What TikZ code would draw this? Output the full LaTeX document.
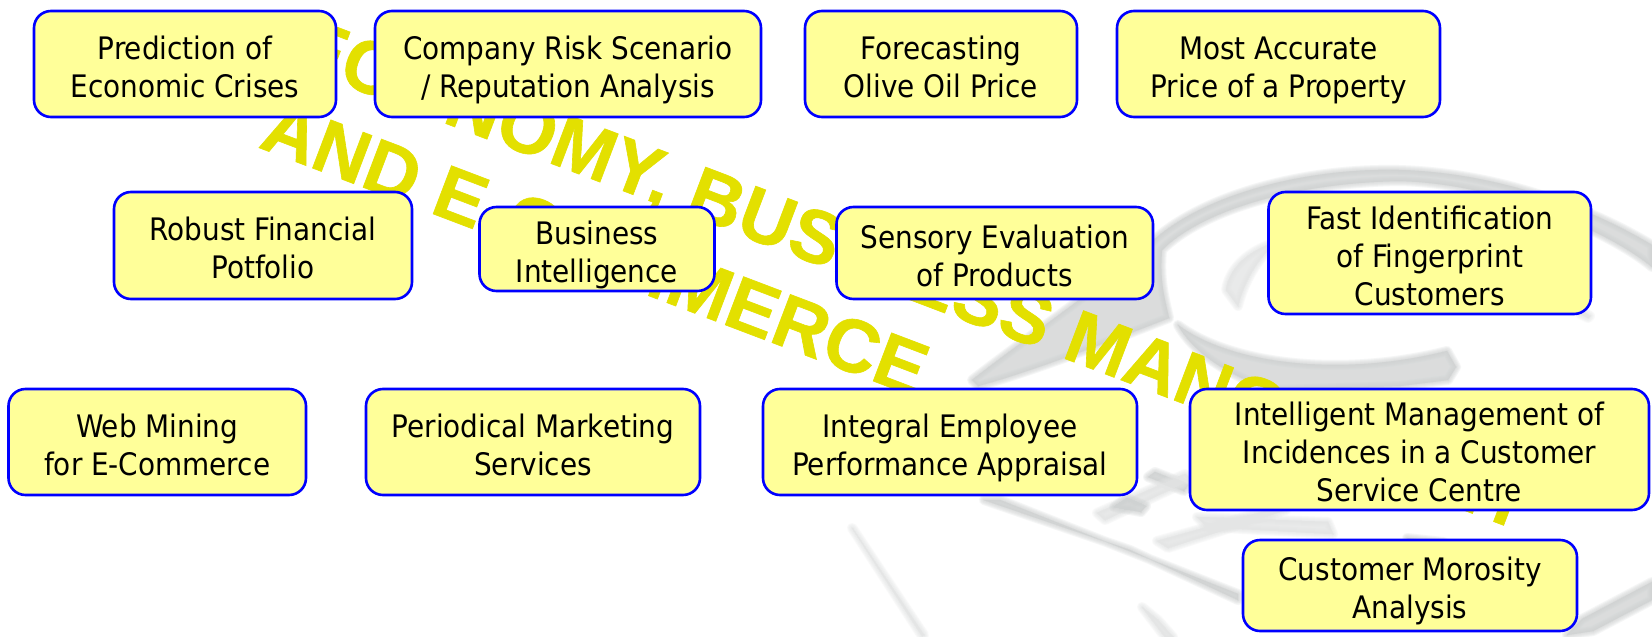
\documentclass[tikz,border=0pt]{standalone}
\usepackage{fontspec}
\setmainfont{DejaVu Sans Condensed}
\newfontfamily\wafont[BoldFeatures={FakeBold=0.8}]{Liberation Sans}
\definecolor{boxfill}{HTML}{FFFF99}
\definecolor{boxline}{HTML}{0000FF}
\definecolor{wordart}{HTML}{E3E000}
\definecolor{markd}{HTML}{CFD2D2}
\definecolor{markl}{HTML}{E4E5E5}
\tikzset{
  itembox/.style={draw=boxline,fill=boxfill,line width=2.6pt,rounded corners=17pt,inner sep=0pt,
    align=center,text=black,font=\fontsize{31}{38}\selectfont},
  wordarttext/.style={text=wordart,font=\wafont\bfseries\fontsize{75}{75}\selectfont,
    rotate=-20.8,anchor=base west,inner sep=0pt}
}
\newcommand{\softshape}[2]{%
  \foreach \lw in {10,8,6,4,2,0.2}{%
    \path[fill=#1,draw=#1,line width=\lw pt,line join=round,opacity=0.2] #2;}}
\newcommand{\itemnode}[6]{%
  \pgfmathsetmacro{\cxv}{(#2+#4)/2}\pgfmathsetmacro{\cyv}{(#3+#5)/2}%
  \pgfmathsetmacro{\wv}{#4-#2}\pgfmathsetmacro{\hv}{#5-#3}%
  \node[itembox,minimum width=\wv pt,minimum height=\hv pt] (#1) at (\cxv,\cyv) {\rule{0pt}{35pt}#6\vphantom{Apg}};}
\begin{document}
\begin{tikzpicture}[x=1pt,y=-1pt]
\clip (0,0) rectangle (1652,637);
\fill[white] (0,0) rectangle (1652,637);
% watermark: ring
\softshape{markd}{(972,380) .. controls (1030,335) and (1110,280) .. (1156,238)
  .. controls (1210,192) and (1310,168) .. (1399,170)
  .. controls (1500,173) and (1590,208) .. (1652,245) -- (1652,267)
  .. controls (1610,232) and (1500,183) .. (1399,181)
  .. controls (1290,183) and (1200,212) .. (1162,250)
  .. controls (1159,280) and (1165,300) .. (1169,318)
  .. controls (1100,345) and (1030,372) .. (978,386) -- cycle}
\softshape{markl}{(1226,290) .. controls (1229,270) and (1245,254) .. (1268,245) -- (1268,250) .. controls (1250,270) and (1242,290) .. (1238,306) -- cycle}
\softshape{markd}{(1178,325) .. controls (1230,364) and (1340,378) .. (1447,351)
  -- (1456,367) -- (1448,380) -- (1400,386)
  -- (1272,390) .. controls (1222,373) and (1192,350) .. cycle}
\softshape{markl}{(1582,311) -- (1590,316) -- (1588,318) -- (1580,314) -- cycle}
% watermark: keyboard
\softshape{markd}{(984,500) -- (1000,500) -- (1238,594) -- (1238,600) -- (1130,550) -- cycle}
\softshape{markd}{(1155,472) -- (1188,485) -- (1184,491) -- (1148,477) -- cycle}
\softshape{markl}{(1097,513) -- (1185,474) -- (1191,480) -- (1105,520) -- cycle}
\softshape{markd}{(1127,498) -- (1146,506) -- (1141,512) -- (1114,507) -- cycle}
\softshape{markl}{(1157,541) -- (1280,507) -- (1286,510) -- (1168,548) -- cycle}
\softshape{markl}{(1197,517) -- (1328,522) -- (1333,534) -- (1207,527) -- cycle}
\softshape{markl}{(1142,607) -- (1158,620) -- (1173,637) -- (1165,637) -- cycle}
\softshape{markd}{(1407,538) -- (1443,542) -- (1453,547) -- (1417,544) -- cycle}
\softshape{markd}{(1582,619) -- (1652,582) -- (1652,600) -- (1593,631) -- (1567,635) -- cycle}
\softshape{markl}{(852,528) -- (853,529) -- (924,635) -- (922,636) -- cycle}
% word art
\node[wordarttext] (line1) at (289,64) {ECONOMY, BUSINESS MANGEMENT};
\node[wordarttext] (line2) at (257,147) {AND E-COMMERCE};
% boxes
\itemnode{a}{34}{11}{336}{117}{Prediction of\\Economic Crises}
\itemnode{b}{375}{11}{761}{117}{Company Risk Scenario\\/ Reputation Analysis}
\itemnode{c}{805}{11}{1077}{117}{Forecasting\\Olive Oil Price}
\itemnode{d}{1117}{11}{1440}{117}{Most Accurate\\Price of a Property}
\itemnode{e}{114}{192}{412}{299}{Robust Financial\\Potfolio}
\itemnode{f}{479.5}{207}{714.5}{291}{Business\\Intelligence}
\itemnode{g}{836.5}{207}{1153}{299}{Sensory Evaluation\\of Products}
\itemnode{h}{1268.5}{192}{1591}{314}{Fast Identification\\of Fingerprint\\Customers}
\itemnode{i}{8.5}{389}{306}{495}{Web Mining\\for E-Commerce}
\itemnode{j}{366}{389}{700}{495}{Periodical Marketing\\Services}
\itemnode{k}{763}{389}{1137}{495}{Integral Employee\\Performance Appraisal}
\itemnode{l}{1190}{389}{1649}{510}{Intelligent Management of\\Incidences in a Customer\\Service Centre}
\itemnode{m}{1243}{540}{1577}{631}{Customer Morosity\\Analysis}
\end{tikzpicture}
\end{document}
